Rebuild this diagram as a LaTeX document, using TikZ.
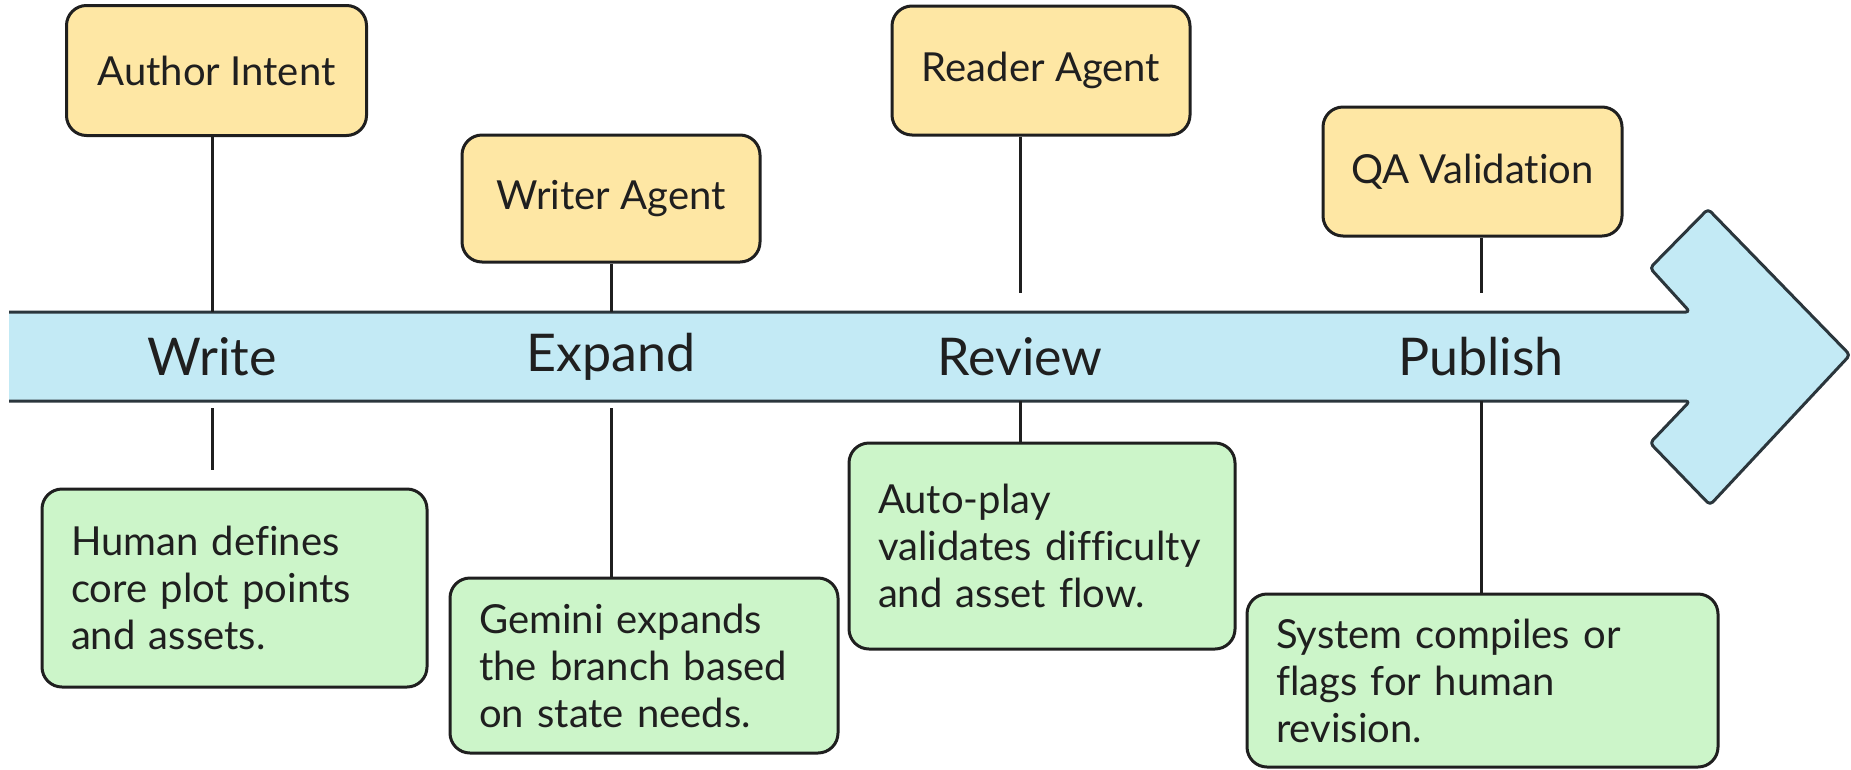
\documentclass[tikz,border=0pt]{standalone}
\usepackage{fontspec}
\setmainfont{Lato}[Ligatures=NoCommon]
\definecolor{ylw}{HTML}{FEE7A4}
\definecolor{grn}{HTML}{CCF5C9}
\definecolor{blu}{HTML}{C3EAF5}
\definecolor{ink}{HTML}{1F1F1F}
\definecolor{bandline}{HTML}{2B363C}
\begin{document}
\begin{tikzpicture}[x=1pt,y=-1pt,
  topbox/.style={draw=ink, line width=3pt, fill=ylw, rounded corners=20pt,
    font=\fontsize{40}{47}\selectfont, text=ink, inner sep=0pt},
  botbox/.style={draw=ink, line width=3pt, fill=grn, rounded corners=20pt,
    font=\fontsize{40}{47}\selectfont, text=ink, inner xsep=29pt, inner ysep=0pt, align=left},
  stage/.style={font=\fontsize{52}{60}\selectfont, text=ink, inner sep=0pt},
  link/.style={draw=ink, line width=3pt}]
\useasboundingbox (0,0) rectangle (1851,769);
% band arrow
\fill[blu] (9,312) -- (1690,312) -- (1650,268) -- (1708,209) -- (1850,355) -- (1710,505) -- (1650,443) -- (1690,401) -- (9,401) -- cycle;
\draw[bandline, line width=3pt, line join=round, rounded corners=4pt]
  (9,312) -- (1690,312) -- (1650,268) -- (1708,209) -- (1850,355) -- (1710,505) -- (1650,443) -- (1690,401) -- (9,401);
\coordinate (bt) at (0,312);
\coordinate (bb) at (0,401);
\coordinate (gt) at (0,293);
\coordinate (gb) at (0,408);
\coordinate (we) at (0,470);
% stage labels
\node[stage] (write) at (212,357) {Write};
\node[stage] (expand) at (611,357) {Expand};
\node[stage] (review) at (1020,357) {Review};
\node[stage] (publish) at (1481,357) {Publish};
% top boxes
\node[topbox, minimum width=300pt, minimum height=130pt] (ai) at (216.5,70.5) {Author Intent};
\node[topbox, minimum width=298pt, minimum height=127pt] (wa) at (611,198.5) {Writer Agent};
\node[topbox, minimum width=298pt, minimum height=129pt] (ra) at (1041,70.5) {Reader Agent};
\node[topbox, minimum width=299pt, minimum height=129pt] (qa) at (1472.5,171.5) {QA Validation};
% bottom boxes
\node[botbox, text width=327pt, minimum height=198pt] (hd) at (234.5,588) {Human defines\\core plot points\\and assets.};
\node[botbox, text width=330pt, minimum height=175pt] (ge) at (644,665.5) {Gemini expands\\the branch based\\on state needs.};
\node[botbox, text width=328pt, minimum height=206pt] (ap) at (1042,546) {Auto-play\\validates difficulty\\and asset flow.};
\node[botbox, text width=413pt, minimum height=173pt] (sc) at (1482.5,680.5) {System compiles or\\flags for human\\revision.};
% connectors top
\draw[link] (write |- ai.south) -- (write |- bt);
\draw[link] (expand |- wa.south) -- (expand |- bt);
\draw[link] (review |- ra.south) -- (review |- gt);
\draw[link] (publish |- qa.south) -- (publish |- gt);
% connectors bottom
\draw[link] (write |- gb) -- (write |- we);
\draw[link] (expand |- gb) -- (expand |- ge.north);
\draw[link] (review |- bb) -- (review |- ap.north);
\draw[link] (publish |- bb) -- (publish |- sc.north);
\end{tikzpicture}
\end{document}
